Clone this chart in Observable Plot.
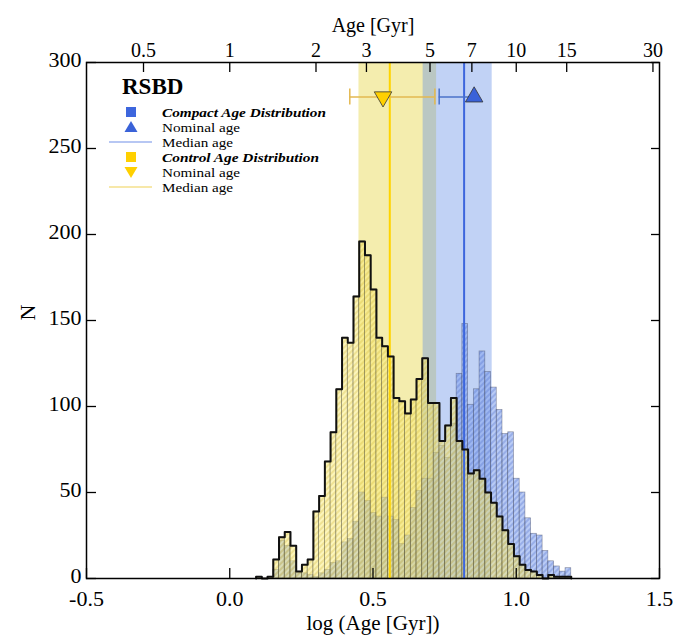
<!DOCTYPE html>
<html><head><meta charset="utf-8">
<script src="https://cdn.jsdelivr.net/npm/d3@7"></script>
<script src="https://cdn.jsdelivr.net/npm/@observablehq/plot@0.6"></script>
<style>
body{margin:0;background:#fff;}
#chart{width:685px;height:638px;}
</style>
</head><body><div id="chart"></div>
<script>
// ---- data ----
const binStart = 0.092;
const binWidth = 0.02;
const controlCounts = [1,0,1, 11,24,27,19,4,8,11, 39,48,68,85,110,140,137,164,
  196,188,168,140,135,129,105,103,96,104,116,128,102,102,80,89,105,80,
  75,61,63,58,50,44,36,28,20,13,8,5,4,2,0,2,1,1,1];
const compactCounts = [0,0,0, 5,22,19,10,3,3,2, 1,3,5,9,10,21,23,33,
  50,45,38,36,47,36,34,20,25,41,51,58,58,73,77,70,90,119,
  148,101,110,132,120,111,98,84,85,58,50,35,26,25,16,10,7,4,6];
const groups = ["Control", "Compact"];
const bandLo = [0.451, 0.675];
const bandHi = [0.722, 0.916];
const medianLog = [0.5586, 0.818];
const nominalLog = [0.535, 0.853];
const errLo = [0.419, 0.731];
const errHi = [0.716, 0.853];
const errN = [280, 280];
const xTicks = [-0.5, 0, 0.5, 1, 1.5];
const yTicks = [0, 50, 100, 150, 200, 250, 300];
const ageTicks = [0.5, 1, 2, 3, 5, 7, 10, 15, 30];

// ---- tables ----
const bins = (counts) => counts.map((n, i) => ({x1: binStart + i*binWidth, x2: binStart + (i+1)*binWidth, n}));
const controlBins = bins(controlCounts);
const compactBins = bins(compactCounts);
const outline = [{x: controlBins[0].x1, y: 0}];
controlBins.forEach(b => { outline.push({x: b.x1, y: b.n}); outline.push({x: b.x2, y: b.n}); });
outline.push({x: controlBins[controlBins.length-1].x2, y: 0});

const bandColor = {Control: "#e1cf2a", Compact: "#5c89e6"};
const medColor = {Control: "#ffd400", Compact: "#3d66dd"};
const errColor = {Control: "#e3b850", Compact: "#4a72c8"};
const triColor = {Control: "#ffd000", Compact: "#3a62d8"};
const G = groups.map((g, i) => ({g, lo: bandLo[i], hi: bandHi[i], med: medianLog[i], nom: nominalLog[i], elo: errLo[i], ehi: errHi[i], n: errN[i]}));
const caps = [];
G.forEach(d => { caps.push({g: d.g, x: d.elo, n: d.n}); if (d.ehi > d.nom) caps.push({g: d.g, x: d.ehi, n: d.n}); });

const W = 685, H = 638, mL = 86, mR = 26, mT = 62, mB = 60;
const fW = W - mL - mR, fH = H - mT - mB;
const serif = "Liberation Serif, Times New Roman, serif";

const svg = Plot.plot({
  width: W, height: H,
  marginLeft: mL, marginRight: mR, marginTop: mT, marginBottom: mB,
  style: {fontFamily: serif, background: "white", color: "black"},
  x: {domain: [-0.5, 1.5], axis: null},
  y: {domain: [0, 300], axis: null},
  marks: [
    Plot.rect(G.filter(d => d.g === "Control"), {x1: "lo", x2: "hi", fill: bandColor.Control, fillOpacity: 0.38}),
    Plot.rect(G.filter(d => d.g === "Compact"), {x1: "lo", x2: "hi", fill: bandColor.Compact, fillOpacity: 0.38}),
    Plot.rect(compactBins, {x1: "x1", x2: "x2", y1: 0, y2: "n", fill: "url(#hatchBlue)", stroke: "#3b3f55", strokeOpacity: 0.5, strokeWidth: 0.7}),
    Plot.rect(controlBins, {x1: "x1", x2: "x2", y1: 0, y2: "n", fill: "url(#hatchYellow)", stroke: "#3f3d30", strokeOpacity: 0.45, strokeWidth: 0.7}),
    Plot.ruleX(G, {x: "med", stroke: d => medColor[d.g], strokeWidth: 2}),
    Plot.line(outline, {x: "x", y: "y", stroke: "#111", strokeWidth: 2}),
    Plot.ruleY(G, {y: "n", x1: "elo", x2: "ehi", stroke: d => errColor[d.g], strokeWidth: 1.5}),
    Plot.ruleX(caps, {x: "x", y1: "n", y2: "n", insetTop: -8, insetBottom: -8, stroke: d => errColor[d.g], strokeWidth: 1.5}),
    Plot.dot(G, {x: "nom", y: "n", symbol: "triangle", r: 6.5, rotate: d => d.g === "Control" ? 180 : 0, fill: d => triColor[d.g], stroke: "#333", strokeWidth: 0.8}),
    Plot.frame({stroke: "black", strokeWidth: 1.5}),
    // inward ticks
    Plot.tickY(yTicks, {y: d => d, insetRight: fW - 10, stroke: "black", strokeWidth: 1.3}),
    Plot.tickY(yTicks, {y: d => d, insetLeft: fW - 8, stroke: "black", strokeWidth: 1.3}),
    Plot.tickX(xTicks, {x: d => d, insetTop: fH - 10, stroke: "black", strokeWidth: 1.3}),
    Plot.tickX(ageTicks, {x: d => Math.log10(d), insetBottom: fH - 10, stroke: "black", strokeWidth: 1.3}),
    // tick labels
    Plot.text(xTicks, {x: d => d, text: d => d.toFixed(1), frameAnchor: "bottom", dy: 27, fontSize: 22}),
    Plot.text(yTicks, {y: d => d, text: d => String(d), frameAnchor: "left", textAnchor: "end", dx: -5, dy: -3, fontSize: 22}),
    Plot.text(ageTicks, {x: d => Math.log10(d), text: d => String(d), frameAnchor: "top", dy: -20, fontSize: 20}),
    // axis titles
    Plot.text(["log (Age [Gyr])"], {frameAnchor: "bottom", dy: 51, fontSize: 21}),
    Plot.text(["Age [Gyr]"], {frameAnchor: "top", dy: -45, fontSize: 20}),
    Plot.text(["N"], {frameAnchor: "left", dx: -59, rotate: -90, fontSize: 22})
  ]
});

// hatch patterns
const defs = d3.select(svg).insert("defs", ":first-child");
function hatch(id, bg, line) {
  const p = defs.append("pattern").attr("id", id).attr("patternUnits", "userSpaceOnUse")
    .attr("width", 4).attr("height", 4).attr("patternTransform", "rotate(45)");
  p.append("rect").attr("width", 4).attr("height", 4).attr("fill", bg);
  p.append("line").attr("x1", 1).attr("y1", 0).attr("x2", 1).attr("y2", 4).attr("stroke", line).attr("stroke-width", 1.3);
}
hatch("hatchBlue", "rgba(135,165,238,0.58)", "rgba(70,100,200,0.45)");
hatch("hatchYellow", "rgba(250,235,120,0.5)", "rgba(205,175,40,0.42)");

// legend
const lg = d3.select(svg).append("g").attr("font-family", serif).attr("fill", "black").attr("text-anchor", "start");
lg.append("text").attr("x", 122).attr("y", 94).attr("font-size", 23).attr("font-weight", "bold").text("RSBD");
const items = [
  {sym: "square", color: "#3d66dd", label: "Compact Age Distribution", bold: true, len: 164},
  {sym: "up", color: "#3a62d8", label: "Nominal age", len: 78},
  {sym: "line", color: "#9fb5ef", label: "Median age", len: 71},
  {sym: "square", color: "#ffd000", label: "Control Age Distribution", bold: true, len: 157},
  {sym: "down", color: "#ffd000", label: "Nominal age", len: 78},
  {sym: "line", color: "#f5e08c", label: "Median age", len: 71}
];
items.forEach((it, i) => {
  const cy = 112 + i * 15;
  if (it.sym === "square") lg.append("rect").attr("x", 126).attr("y", cy - 5).attr("width", 10).attr("height", 10).attr("fill", it.color);
  if (it.sym === "up") lg.append("path").attr("d", `M131,${cy-6}L137.5,${cy+5}L124.5,${cy+5}Z`).attr("fill", it.color);
  if (it.sym === "down") lg.append("path").attr("d", `M131,${cy+6}L137.5,${cy-5}L124.5,${cy-5}Z`).attr("fill", it.color);
  if (it.sym === "line") lg.append("line").attr("x1", 109).attr("x2", 152).attr("y1", cy).attr("y2", cy).attr("stroke", it.color).attr("stroke-width", 1.5);
  const t = lg.append("text").attr("x", 162).attr("y", cy + 4.5).attr("font-size", 13.4)
    .attr("text-anchor", "start").attr("textLength", it.len).attr("lengthAdjust", "spacingAndGlyphs").text(it.label);
  if (it.bold) t.attr("font-weight", "bold").attr("font-style", "italic");
});

document.getElementById("chart").appendChild(svg);
</script>
</body></html>
